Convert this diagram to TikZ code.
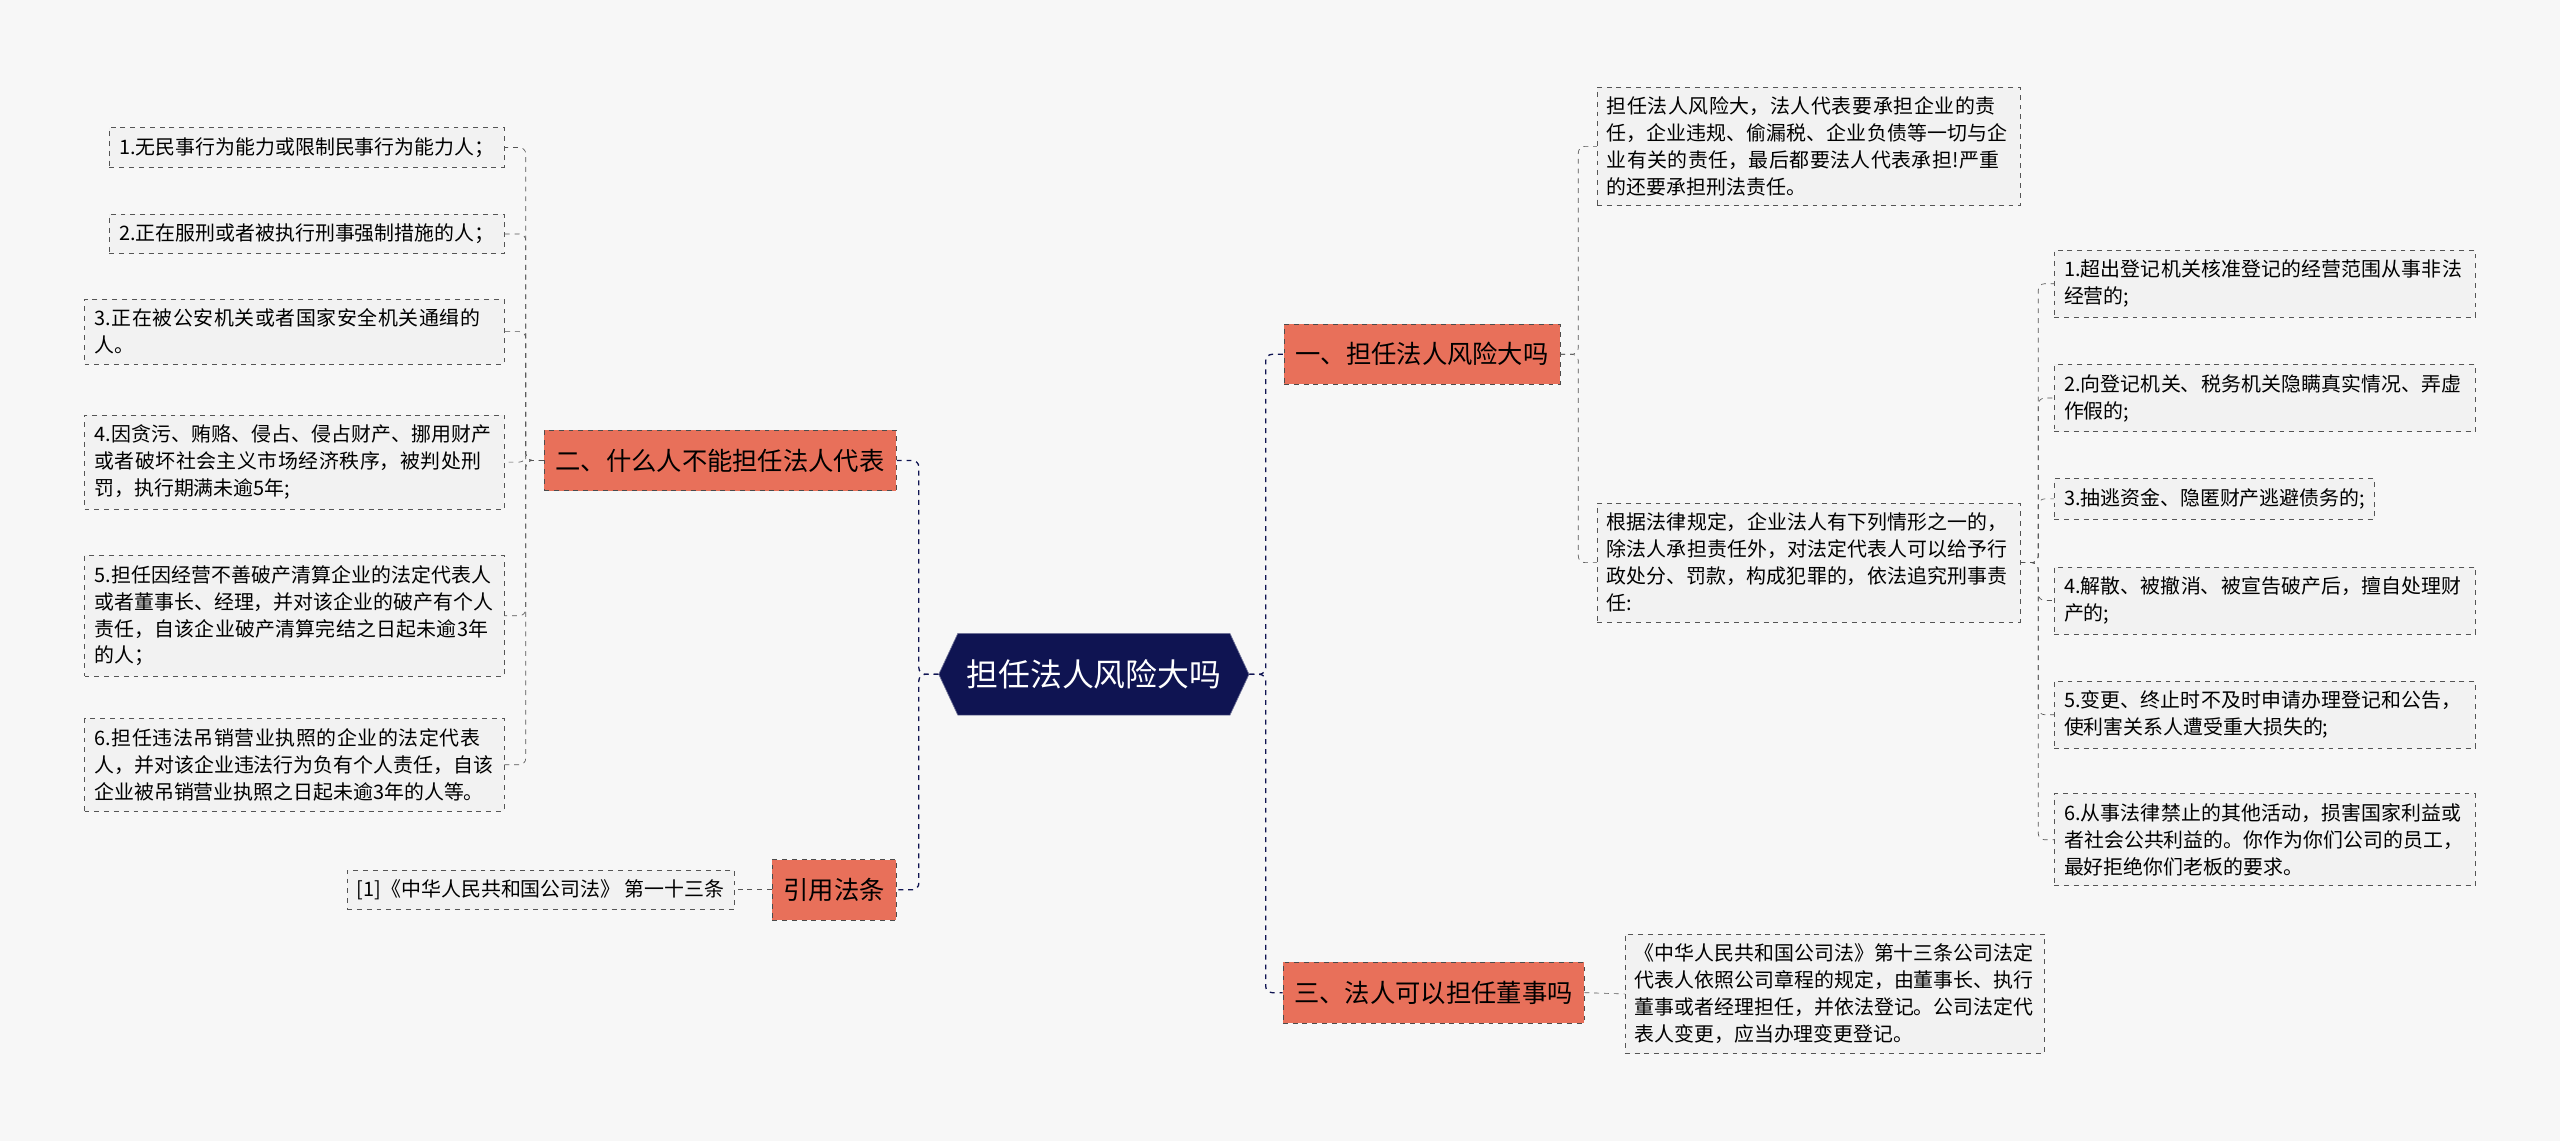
\documentclass[tikz,border=0pt]{standalone}
\usepackage{fontspec}
\setmainfont{Noto Sans CJK SC}
\XeTeXlinebreaklocale "zh"
\XeTeXlinebreakskip=0pt plus 1pt
\usetikzlibrary{positioning,shapes.symbols}
\definecolor{bgc}{HTML}{F7F7F7}
\definecolor{navy}{HTML}{0F1452}
\definecolor{branchc}{HTML}{E8705A}
\definecolor{leafc}{HTML}{F2F2F2}
\definecolor{linec}{HTML}{555555}

\tikzset{
  rootnode/.style={signal, signal to=west and east, signal pointer angle=130, fill=navy, draw=navy!60, text=white, font=\fontsize{19.5}{22}\selectfont, minimum width=190pt, minimum height=50pt, inner xsep=4pt},
  branch/.style={rectangle, fill=branchc, draw=black!70, dashed, font=\fontsize{15.5}{18}\selectfont, minimum height=37pt, inner xsep=7pt},
  leaf/.style={rectangle, fill=leafc, draw=linec, dashed, font=\fontsize{12.2}{16.5}\selectfont, align=left, inner sep=6pt},
  leafw/.style={leaf, text width=#1},
  mainline/.style={draw=navy, dashed, thick, rounded corners=4pt},
  subline/.style={draw=linec, dashed, rounded corners=4pt}
}

\begin{document}
\begin{tikzpicture}[x=1pt,y=-1pt]
\fill[bgc] (0,0) rectangle (1568,699);
\useasboundingbox (0,0) rectangle (1568,699);

% root and branches
\node (root) [rootnode] at (670,413) {担任法人风险大吗};
\node (risk) [branch] at (871,217) {一、担任法人风险大吗};
\node (director) [branch] at (878,608) {三、法人可以担任董事吗};
\node (who) [branch] at (441,282) {二、什么人不能担任法人代表};
\node (law) [branch] at (511,545) {引用法条};

% right side leaves
\node (riskA) [leafw=247pt, anchor=north west] at (978,53) {担任法人风险大，法人代表要承担企业的责任，企业违规、偷漏税、企业负债等一切与企业有关的责任，最后都要法人代表承担!严重的还要承担刑法责任。};
\node (riskB) [leafw=247pt, anchor=north west] at (978,308) {根据法律规定，企业法人有下列情形之一的，除法人承担责任外，对法定代表人可以给予行政处分、罚款，构成犯罪的，依法追究刑事责任:};
\node (case1) [leafw=246pt, anchor=north west] at (1258,153) {1.超出登记机关核准登记的经营范围从事非法经营的;};
\node (case2) [leafw=246pt, anchor=north west] at (1258,223) {2.向登记机关、税务机关隐瞒真实情况、弄虚作假的;};
\node (case3) [leaf, anchor=north west] at (1258,293) {3.抽逃资金、隐匿财产逃避债务的;};
\node (case4) [leafw=246pt, anchor=north west] at (1258,347) {4.解散、被撤消、被宣告破产后，擅自处理财产的;};
\node (case5) [leafw=246pt, anchor=north west] at (1258,417) {5.变更、终止时不及时申请办理登记和公告，使利害关系人遭受重大损失的;};
\node (case6) [leafw=246pt, anchor=north west] at (1258,486) {6.从事法律禁止的其他活动，损害国家利益或者社会公共利益的。你作为你们公司的员工，最好拒绝你们老板的要求。};
\node (dirA) [leafw=245pt, anchor=north west] at (995,572) {《中华人民共和国公司法》第十三条公司法定代表人依照公司章程的规定，由董事长、执行董事或者经理担任，并依法登记。公司法定代表人变更，应当办理变更登记。};

% left side leaves
\node (who1) [leaf, anchor=north east] at (309,78) {1.无民事行为能力或限制民事行为能力人；};
\node (who2) [leaf, anchor=north east] at (309,131) {2.正在服刑或者被执行刑事强制措施的人；};
\node (who3) [leafw=245pt, anchor=north east] at (309,183) {3.正在被公安机关或者国家安全机关通缉的人。};
\node (who4) [leafw=245pt, anchor=north east] at (309,254) {4.因贪污、贿赂、侵占、侵占财产、挪用财产或者破坏社会主义市场经济秩序，被判处刑罚，执行期满未逾5年;};
\node (who5) [leafw=245pt, anchor=north east] at (309,340) {5.担任因经营不善破产清算企业的法定代表人或者董事长、经理，并对该企业的破产有个人责任，自该企业破产清算完结之日起未逾3年的人；};
\node (who6) [leafw=245pt, anchor=north east] at (309,440) {6.担任违法吊销营业执照的企业的法定代表人，并对该企业违法行为负有个人责任，自该企业被吊销营业执照之日起未逾3年的人等。};
\node (law1) [leaf, anchor=east] at (450,545) {[1]《中华人民共和国公司法》 第一十三条};

% connectors
\foreach \b in {risk,director}
  \draw [mainline] (root.east) -- ++(10,0) |- (\b.west);
\foreach \b in {who,law}
  \draw [mainline] (root.west) -- ++(-12,0) |- (\b.east);
\foreach \l in {riskA,riskB}
  \draw [subline] (risk.east) -- ++(11,0) |- (\l.west);
\foreach \l in {case1,case2,case3,case4,case5,case6}
  \draw [subline] (riskB.east) -- ++(11,0) |- (\l.west);
\draw [subline] (director.east) -- (dirA.west);
\foreach \l in {who1,who2,who3,who4,who5,who6}
  \draw [subline] (who.west) -- ++(-11,0) |- (\l.east);
\draw [subline] (law.west) -- (law1.east);
\end{tikzpicture}
\end{document}
